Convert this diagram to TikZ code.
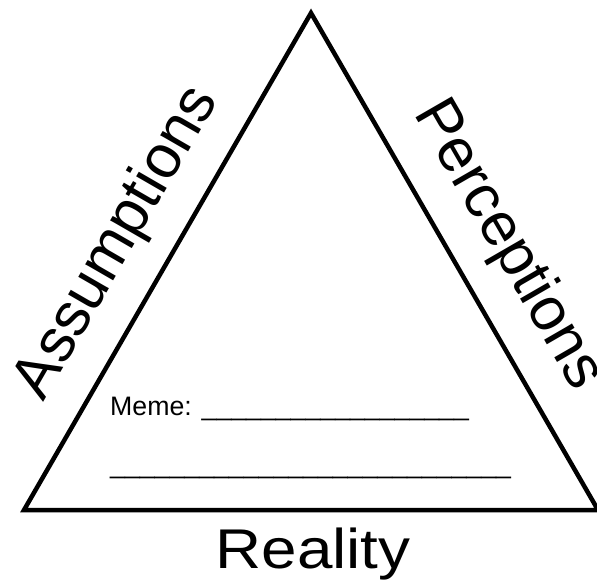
\documentclass[tikz,border=0pt]{standalone}
\usepackage{fontspec}
\setmainfont{Liberation Sans}

\tikzset{
  sidelabel/.style={font=\fontsize{61bp}{61bp}\selectfont, inner sep=0pt, anchor=base},
  memetext/.style={font=\fontsize{26.7bp}{26.7bp}\selectfont, inner sep=0pt, anchor=base west},
}
\newcommand{\blanks}[1]{\foreach \k in {1,...,#1}{\_}}

\begin{document}
\begin{tikzpicture}[x=1bp, y=-1bp]
        \useasboundingbox (0,0) rectangle (597,582);

        % Corners of the triangle
        \coordinate (apex) at (311,13);
        \coordinate (baseleft) at (24,510);
        \coordinate (baseright) at (598,510);

        \draw[line width=4.5bp, line join=miter] (baseleft) -- (apex) -- (baseright) -- cycle;

        % Labels on the three sides
        \node[sidelabel, rotate=60] (assumptions) at (131,251) {Assumptions};
        \node[sidelabel, rotate=-60] (perceptions) at (494,253) {Perceptions};
        \node[sidelabel, xscale=1.14, font=\fontsize{56bp}{56bp}\selectfont] (reality) at (313,568) {Reality};

        % Blanks to fill in
        \node[memetext] (meme) at (110,415) {Meme: \blanks{18}};
        \node[memetext] (memeline) at (110,473) {\blanks{27}};
    \end{tikzpicture}
\end{document}
